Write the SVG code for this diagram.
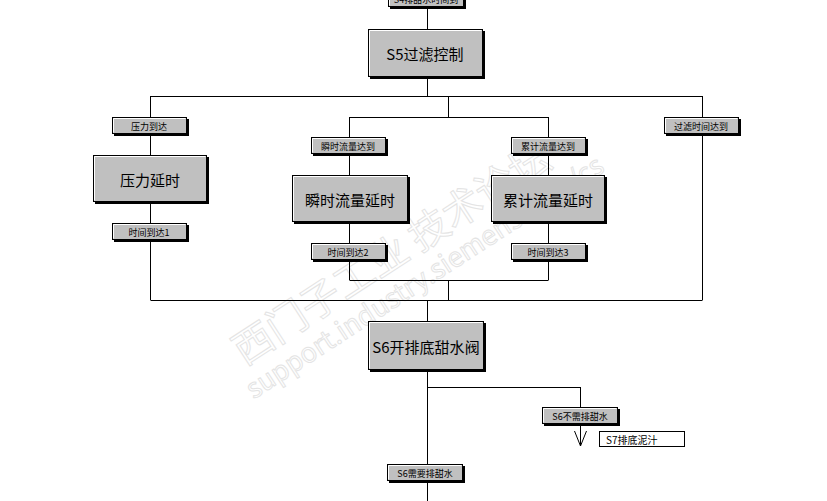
<svg xmlns="http://www.w3.org/2000/svg" width="827" height="501" viewBox="0 0 827 501">
<style>
.sh{fill:#000}
.bx{fill:#c0c0c0;stroke:#000;stroke-width:1}
.hl{fill:none;stroke:#fff;stroke-width:1}
.ln{fill:none;stroke:#000;stroke-width:1}
.s{font-family:"Noto Sans CJK SC","Liberation Sans",sans-serif;font-size:9px;fill:#000;text-anchor:middle;dominant-baseline:central}
.l{font-family:"Noto Sans CJK SC","Liberation Sans",sans-serif;font-size:15px;fill:#000;text-anchor:middle;dominant-baseline:central}
.wm{font-family:"Noto Sans CJK SC","Liberation Sans",sans-serif;fill:none;stroke:#e4e4e4;stroke-width:1}
</style>
<rect width="827" height="501" fill="#fff"/>
<g id="watermark" transform="rotate(-33 420 270)">
<text class="wm" x="405" y="255" font-size="40" text-anchor="middle">西门子工业 技术论坛</text>
<text class="wm" x="420" y="288" font-size="27" text-anchor="middle">support.industry.siemens.com/cs</text>
</g>
<g id="connectors">
<path class="ln" d="M427.5 7V29M427.5 76V96M150.5 96.5H702.5M448.5 96V117M349.5 117.5H548.5M150.5 96V300M349.5 117V280M548.5 117V280M702.5 96V300M349.5 280.5H548.5M448.5 280V300M150.5 300.5H702.5M427.5 300V321M427.5 369V501M427.5 387.5H580.5M580.5 387V407M580.5 424V446M574.5 431L580.5 446L586.5 431"/>
</g>
<g id="n_s4"><rect class="sh" x="390" y="-10" width="76" height="19"/><rect class="bx" x="388.5" y="-12.5" width="75" height="19"/><path class="hl" d="M389.5 5.5V-11.5H462.5"/><text class="s" x="426" y="-1">S4排甜水时间到</text></g>
<g id="n_s5"><rect class="sh" x="370" y="31" width="115" height="48"/><rect class="bx" x="368.5" y="29.5" width="114" height="47"/><path class="hl" d="M369.5 75.5V30.5H481.5"/><text class="l" x="425" y="53">S5过滤控制</text></g>
<g id="n_yldd"><rect class="sh" x="114" y="119" width="75" height="17"/><rect class="bx" x="112.5" y="117.5" width="74" height="16"/><path class="hl" d="M113.5 132.5V118.5H185.5"/><text class="s" x="149" y="126">压力到达</text></g>
<g id="n_ylys"><rect class="sh" x="95" y="157" width="114" height="47"/><rect class="bx" x="93.5" y="155.5" width="113" height="46"/><path class="hl" d="M94.5 200.5V156.5H205.5"/><text class="l" x="150" y="179">压力延时</text></g>
<g id="n_sjdd1"><rect class="sh" x="114" y="225" width="75" height="17"/><rect class="bx" x="112.5" y="223.5" width="74" height="16"/><path class="hl" d="M113.5 238.5V224.5H185.5"/><text class="s" x="149" y="232">时间到达1</text></g>
<g id="n_ssdd"><rect class="sh" x="313" y="139" width="75" height="17"/><rect class="bx" x="311.5" y="137.5" width="74" height="16"/><path class="hl" d="M312.5 152.5V138.5H384.5"/><text class="s" x="348" y="146">瞬时流量达到</text></g>
<g id="n_ssys"><rect class="sh" x="294" y="177" width="116" height="47"/><rect class="bx" x="292.5" y="175.5" width="115" height="46"/><path class="hl" d="M293.5 220.5V176.5H406.5"/><text class="l" x="350" y="199">瞬时流量延时</text></g>
<g id="n_sjdd2"><rect class="sh" x="313" y="245" width="75" height="17"/><rect class="bx" x="311.5" y="243.5" width="74" height="16"/><path class="hl" d="M312.5 258.5V244.5H384.5"/><text class="s" x="348" y="252">时间到达2</text></g>
<g id="n_ljdd"><rect class="sh" x="513" y="139" width="75" height="17"/><rect class="bx" x="511.5" y="137.5" width="74" height="16"/><path class="hl" d="M512.5 152.5V138.5H584.5"/><text class="s" x="548" y="146">累计流量达到</text></g>
<g id="n_ljys"><rect class="sh" x="493" y="177" width="114" height="47"/><rect class="bx" x="491.5" y="175.5" width="113" height="46"/><path class="hl" d="M492.5 220.5V176.5H603.5"/><text class="l" x="548" y="199">累计流量延时</text></g>
<g id="n_sjdd3"><rect class="sh" x="513" y="245" width="75" height="17"/><rect class="bx" x="511.5" y="243.5" width="74" height="16"/><path class="hl" d="M512.5 258.5V244.5H584.5"/><text class="s" x="548" y="252">时间到达3</text></g>
<g id="n_glsj"><rect class="sh" x="666" y="119" width="75" height="17"/><rect class="bx" x="664.5" y="117.5" width="74" height="16"/><path class="hl" d="M665.5 132.5V118.5H737.5"/><text class="s" x="701" y="126">过滤时间达到</text></g>
<g id="n_s6k"><rect class="sh" x="370" y="323" width="116" height="49"/><rect class="bx" x="368.5" y="321.5" width="115" height="48"/><path class="hl" d="M369.5 368.5V322.5H482.5"/><text class="l" x="426" y="346">S6开排底甜水阀</text></g>
<g id="n_s6bx"><rect class="sh" x="544" y="409" width="76" height="17"/><rect class="bx" x="542.5" y="407.5" width="75" height="16"/><path class="hl" d="M543.5 422.5V408.5H616.5"/><text class="s" x="580" y="416">S6不需排甜水</text></g>
<g id="n_s7"><rect x="599.5" y="431.5" width="85" height="15" fill="#fff" stroke="#000"/><text class="s" x="606" y="439" style="text-anchor:start;font-size:10px">S7排底泥汁</text></g>
<g id="n_s6xy"><rect class="sh" x="389" y="466" width="76" height="17"/><rect class="bx" x="387.5" y="464.5" width="75" height="16"/><path class="hl" d="M388.5 479.5V465.5H461.5"/><text class="s" x="425" y="473">S6需要排甜水</text></g>
</svg>
